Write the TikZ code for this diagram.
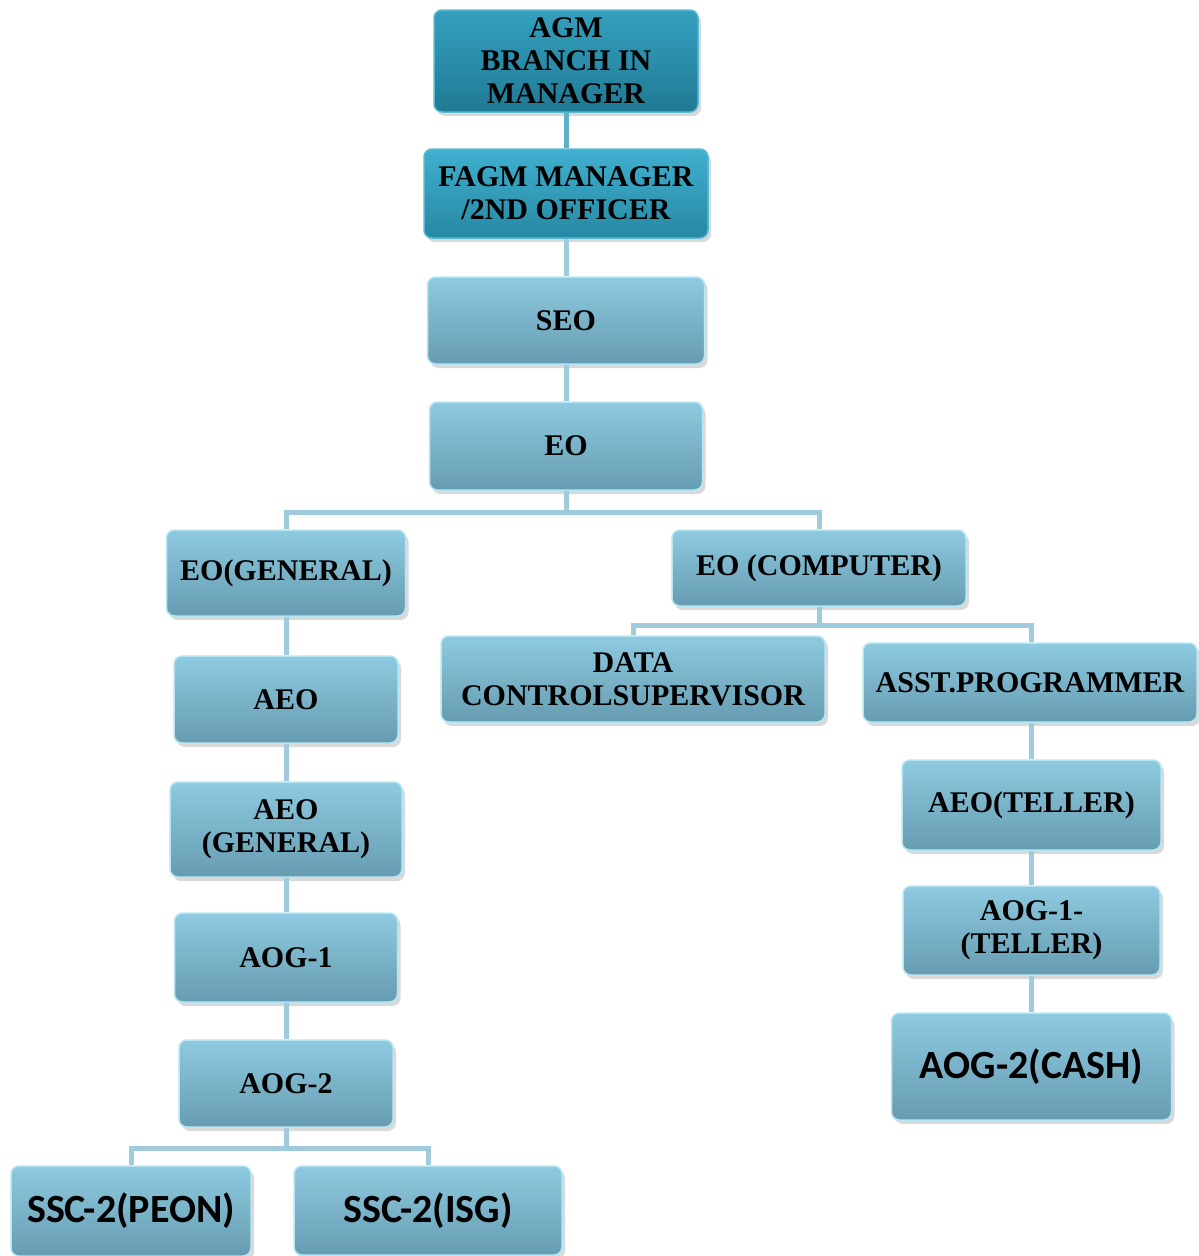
\documentclass[tikz,border=0pt]{standalone}
\usepackage{fontspec}
\setmainfont{Liberation Serif}
\newfontfamily\carlito{Carlito}
\usetikzlibrary{shadows}
\definecolor{lbTop}{RGB}{142,202,224}
\definecolor{lbBot}{RGB}{102,156,177}
\definecolor{lbEdge}{RGB}{182,230,242}
\definecolor{dkTop}{RGB}{52,160,190}
\definecolor{dkBot}{RGB}{32,122,148}
\definecolor{dkEdge}{RGB}{90,185,210}
\definecolor{fgTop}{RGB}{64,176,206}
\definecolor{fgBot}{RGB}{38,136,164}
\definecolor{conn}{RGB}{160,203,220}
\definecolor{connDk}{RGB}{95,176,200}
\tikzset{
  orgbox/.style={rounded corners=8pt, inner sep=0pt, align=center,
    top color=lbTop, bottom color=lbBot, draw=lbEdge, line width=1.5pt,
    drop shadow={shadow xshift=3pt, shadow yshift=-4pt, opacity=0.25, fill=black!60},
    font=\fontsize{30}{33}\selectfont\bfseries},
  darkbox/.style={orgbox, top color=dkTop, bottom color=dkBot, draw=dkEdge},
  fagmbox/.style={orgbox, top color=fgTop, bottom color=fgBot, draw=dkEdge},
  sansbox/.style={orgbox, font=\carlito\fontsize{40}{43}\selectfont\bfseries},
  link/.style={draw=conn, line width=5pt},
  linkdk/.style={draw=connDk, line width=5pt}
}
\begin{document}
\begin{tikzpicture}[x=1pt,y=-1pt]
\useasboundingbox (0,0) rectangle (1199,1256);
% connector junctions
\coordinate (j1) at (566,512);
\coordinate (j2) at (819,625);
\coordinate (j3) at (286,1148);
% boxes
\node[darkbox, minimum width=264, minimum height=102] (agm) at (566,61) {AGM\\BRANCH IN\\MANAGER};
\node[fagmbox, minimum width=284, minimum height=89] (fagm) at (566,193.5) {FAGM MANAGER\\/2ND OFFICER};
\node[orgbox, minimum width=277, minimum height=87] (seo) at (566,320.5) {SEO};
\node[orgbox, minimum width=273, minimum height=88] (eo) at (566,446) {EO};
\node[orgbox, minimum width=239, minimum height=86] (eog) at (286,573) {EO(GENERAL)};
\node[orgbox, minimum width=294, minimum height=76] (eoc) at (819,568) {EO (COMPUTER)};
\node[orgbox, minimum width=384, minimum height=86] (dcs) at (633,679) {DATA\\CONTROLSUPERVISOR};
\node[orgbox, minimum width=334, minimum height=79] (ap) at (1030,682.5) {ASST.PROGRAMMER};
\node[orgbox, minimum width=224, minimum height=87] (aeo) at (286,699.5) {AEO};
\node[orgbox, minimum width=232, minimum height=95] (aeog) at (286,829.5) {AEO\\(GENERAL)};
\node[orgbox, minimum width=223, minimum height=89] (aog1) at (286,957.5) {AOG-1};
\node[orgbox, minimum width=214, minimum height=87] (aog2) at (286,1083.5) {AOG-2};
\node[sansbox, minimum width=240, minimum height=90] (peon) at (131,1211) {SSC-2(PEON)};
\node[sansbox, minimum width=268, minimum height=89] (isg) at (428,1210.5) {SSC-2(ISG)};
\node[orgbox, minimum width=259, minimum height=90] (aeot) at (1031.5,805) {AEO(TELLER)};
\node[orgbox, minimum width=257, minimum height=89] (aog1t) at (1031.5,930.5) {AOG-1-\\(TELLER)};
\node[sansbox, minimum width=280, minimum height=107] (cash) at (1031.5,1066.5) {AOG-2(CASH)};
% connectors, between box edges
\draw[linkdk] (agm.south) -- (fagm.north);
\draw[link] (fagm.south) -- (seo.north);
\draw[link] (seo.south) -- (eo.north);
\draw[link] (eo.south) -- (j1);
\draw[link] (j1) -| (eog.north);
\draw[link] (j1) -| (eoc.north);
\draw[link] (eoc.south) -- (j2);
\draw[link] (j2) -| (dcs.north);
\draw[link] (j2) -| (ap.north -| aeot.north);
\draw[link] (ap.south -| aeot.north) -- (aeot.north);
\draw[link] (aeot.south) -- (aog1t.north);
\draw[link] (aog1t.south) -- (cash.north);
\draw[link] (eog.south) -- (aeo.north);
\draw[link] (aeo.south) -- (aeog.north);
\draw[link] (aeog.south) -- (aog1.north);
\draw[link] (aog1.south) -- (aog2.north);
\draw[link] (aog2.south) -- (j3);
\draw[link] (j3) -| (peon.north);
\draw[link] (j3) -| (isg.north);
\end{tikzpicture}
\end{document}
